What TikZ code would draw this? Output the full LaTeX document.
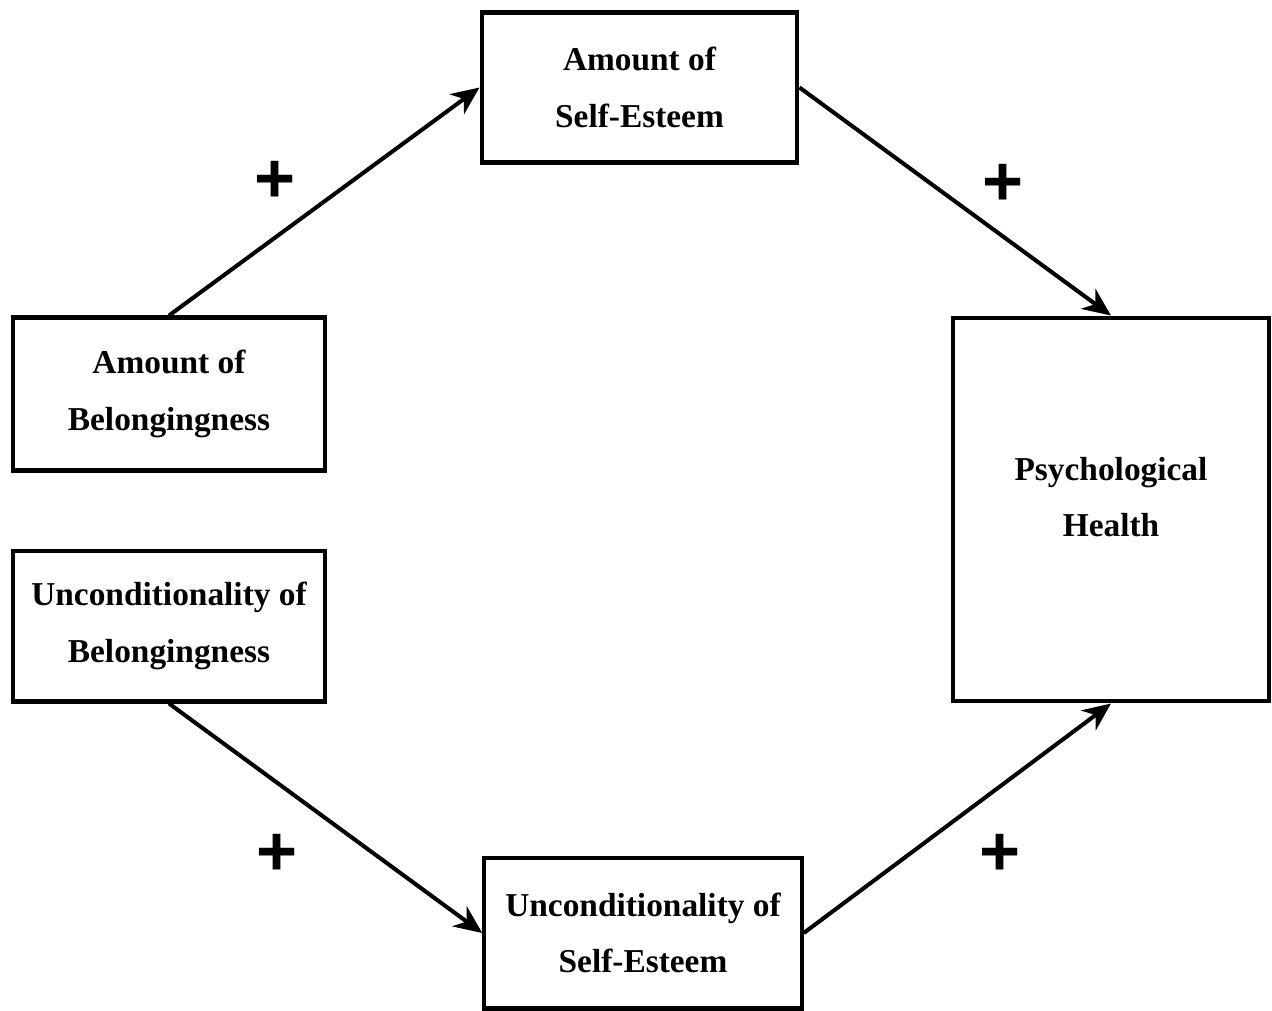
\documentclass[tikz,border=0pt]{standalone}
\usepackage{fontspec}
\setmainfont{Liberation Serif}
\newfontfamily\signfont{Liberation Sans}
\usetikzlibrary{arrows.meta}

\begin{document}
\begin{tikzpicture}[x=0.02cm, y=-0.02cm,
		box/.style={draw, line width=2.3pt, align=center, inner sep=0pt, font=\bfseries\fontsize{19}{32.3}\selectfont},
		link/.style={-{Stealth[length=16pt, width=14pt, inset=5pt]}, line width=2.3pt},
		sign/.style={font=\signfont\bfseries\fontsize{40}{40}\selectfont}]
		\useasboundingbox (0,0) rectangle (1272,1011);

		\node [box, minimum width=6.32cm, minimum height=3cm] (esteemamount) at (639.5,87.5) {Amount of\\Self-Esteem};
		\node [box, minimum width=6.26cm, minimum height=3.06cm] (belongamount) at (169,394) {Amount of\\Belongingness};
		\node [box, minimum width=6.26cm, minimum height=3.02cm] (belonguncond) at (169,626) {Unconditionality of\\Belongingness};
		\node [box, minimum width=6.33cm, minimum height=7.68cm, text depth=0.5cm] (health) at (1111,509.5) {Psychological\\Health};
		\node [box, minimum width=6.35cm, minimum height=3.02cm] (esteemuncond) at (643,933) {Unconditionality of\\Self-Esteem};

		\draw [link] (belongamount.north) -- (esteemamount.west);
		\draw [link] (esteemamount.east) -- (health.north);
		\draw [link] (belonguncond.south) -- (esteemuncond.west);
		\draw [link] (esteemuncond.east) -- (health.south);

		\node [sign] (plusa) at (275,182) {+};
		\node [sign] (plusb) at (1003,185) {+};
		\node [sign] (plusc) at (277,855) {+};
		\node [sign] (plusd) at (1000,855) {+};
	\end{tikzpicture}
\end{document}
